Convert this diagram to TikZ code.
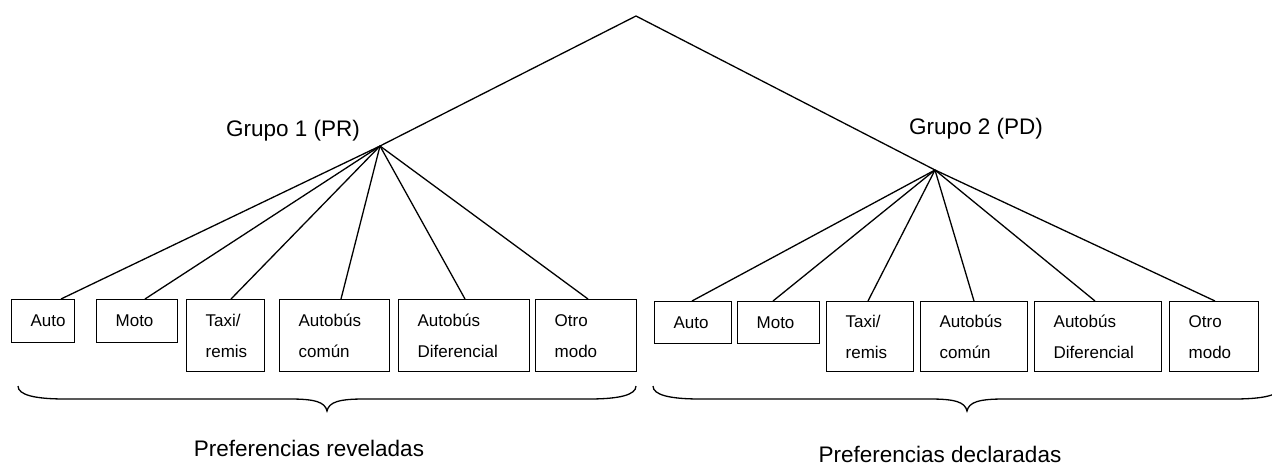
\documentclass[tikz,border=0pt]{standalone}
\usepackage{fontspec}
\setmainfont{Liberation Sans}
\begin{document}
\begin{tikzpicture}[x=1pt,y=-1pt,
  line width=1.3pt,
  box/.style n args={2}{draw, anchor=north west, inner sep=0pt, minimum width=#1, minimum height=#2},
  boxtext/.style={anchor=west, align=left, inner sep=0pt, font=\fontsize{17}{31}\selectfont},
  biglabel/.style={anchor=base, inner sep=0pt, font=\fontsize{22.5}{27}\selectfont}]
\useasboundingbox (0,0) rectangle (1272,466);

% top and hubs
\coordinate (top) at (636,16);
\coordinate (h1) at (380,146);
\coordinate (h2) at (935,170);
\draw (h1) -- (top) -- (h2);

% group labels
\node[biglabel] (g1) at (293,136) {Grupo 1 (PR)};
\node[biglabel] (g2) at (976,134) {Grupo 2 (PD)};

% left boxes
\node[box={63}{43}]  (a1) at (11,299) {};
\node[box={81}{43}]  (a2) at (96,299) {};
\node[box={78}{72}]  (a3) at (186,299) {};
\node[box={110}{72}] (a4) at (279,299) {};
\node[box={131}{72}] (a5) at (398,299) {};
\node[box={101}{72}] (a6) at (535,299) {};
\node[boxtext] (ta1) at ([xshift=19pt]a1.west) {Auto};
\node[boxtext] (ta2) at ([xshift=19pt]a2.west) {Moto};
\node[boxtext] (ta3) at ([xshift=19pt]a3.west) {Taxi/\\remis};
\node[boxtext] (ta4) at ([xshift=19pt]a4.west) {Autobús\\común};
\node[boxtext] (ta5) at ([xshift=19pt]a5.west) {Autobús\\Diferencial};
\node[boxtext] (ta6) at ([xshift=19pt]a6.west) {Otro\\modo};

% right boxes
\node[box={77}{42}]  (b1) at (654,301) {};
\node[box={82}{42}]  (b2) at (737,301) {};
\node[box={87}{70}]  (b3) at (826,301) {};
\node[box={107}{70}] (b4) at (920,301) {};
\node[box={127}{70}] (b5) at (1034,301) {};
\node[box={89}{70}]  (b6) at (1169,301) {};
\node[boxtext] (tb1) at ([xshift=19pt]b1.west) {Auto};
\node[boxtext] (tb2) at ([xshift=19pt]b2.west) {Moto};
\node[boxtext] (tb3) at ([xshift=19pt]b3.west) {Taxi/\\remis};
\node[boxtext] (tb4) at ([xshift=19pt]b4.west) {Autobús\\común};
\node[boxtext] (tb5) at ([xshift=19pt]b5.west) {Autobús\\Diferencial};
\node[boxtext] (tb6) at ([xshift=19pt]b6.west) {Otro\\modo};

% connectors
\draw (h1) -- (a1.north -| 61,0);
\draw (h1) -- (a2.north -| 145,0);
\draw (h1) -- (a3.north -| 231,0);
\draw (h1) -- (a4.north -| 341,0);
\draw (h1) -- (a5.north -| 465,0);
\draw (h1) -- (a6.north -| 588,0);
\draw (h2) -- (b1.north -| 692,0);
\draw (h2) -- (b2.north -| 773,0);
\draw (h2) -- (b3.north -| 868,0);
\draw (h2) -- (b4.north -| 974,0);
\draw (h2) -- (b5.north -| 1095,0);
\draw (h2) -- (b6.north -| 1215,0);

% braces
\draw (18,386) .. controls (18,395) and (35,399) .. (65,399) -- (290,399)
  .. controls (315,399) and (325,402) .. (327,411)
  .. controls (329,402) and (339,399) .. (364,399) -- (589,399)
  .. controls (619,399) and (636,395) .. (636,386);
\draw (653,386) .. controls (653,395) and (670,399) .. (700,399) -- (930,399)
  .. controls (955,399) and (965,402) .. (967,411)
  .. controls (969,402) and (979,399) .. (1004,399) -- (1234,399)
  .. controls (1264,399) and (1281,395) .. (1281,386);

% bottom labels
\node[biglabel] (p1) at (309,456) {Preferencias reveladas};
\node[biglabel] (p2) at (940,462) {Preferencias declaradas};
\end{tikzpicture}
\end{document}
